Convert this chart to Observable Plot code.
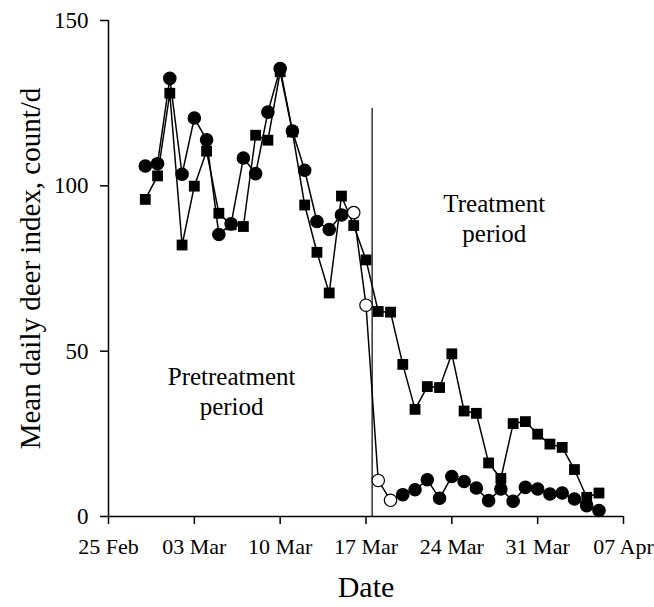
<!DOCTYPE html>
<html>
<head>
<meta charset="utf-8">
<script src="https://cdn.jsdelivr.net/npm/d3@7"></script>
<script src="https://cdn.jsdelivr.net/npm/@observablehq/plot@0.6"></script>
<style>
  html, body { margin: 0; padding: 0; background: #fff; }
  #chart svg { display: block; }
</style>
</head>
<body>
<div id="chart"></div>
<script>
// Daily observations (leap year 2016, so 25 Feb -> 03 Mar is 7 days)
const dates = [
  "2016-02-28","2016-02-29","2016-03-01","2016-03-02","2016-03-03","2016-03-04",
  "2016-03-05","2016-03-06","2016-03-07","2016-03-08","2016-03-09","2016-03-10",
  "2016-03-11","2016-03-12","2016-03-13","2016-03-14","2016-03-15","2016-03-16",
  "2016-03-17","2016-03-18","2016-03-19","2016-03-20","2016-03-21","2016-03-22",
  "2016-03-23","2016-03-24","2016-03-25","2016-03-26","2016-03-27","2016-03-28",
  "2016-03-29","2016-03-30","2016-03-31","2016-04-01","2016-04-02","2016-04-03",
  "2016-04-04","2016-04-05"
];
// Circle series
const circleValues = [
  106, 106.7, 132.5, 103.5, 120.5, 113.9,
  85.3, 88.5, 108.4, 103.7, 122.3, 135.5,
  116.6, 104.7, 89.2, 86.8, 91.2, 91.9,
  63.9, 10.9, 4.9, 6.6, 8.1, 11.1,
  5.5, 12.1, 10.6, 8.6, 4.8, 8.3,
  4.6, 8.8, 8.3, 6.8, 7.1, 5.3,
  3.3, 1.8
];
// Square series
const squareValues = [
  95.9, 103, 128, 82.1, 99.9, 110.5,
  91.7, 88.2, 87.7, 115.3, 113.8, 134.5,
  116.3, 94.2, 79.9, 67.6, 96.9, 88,
  77.6, 62, 61.8, 46, 32.4, 39.3,
  39, 49.2, 31.9, 31.2, 16.2, 11.5,
  28.1, 28.7, 24.9, 21.9, 20.9, 14.2,
  5.8, 7.1
];
// Circle points drawn hollow
const openCircleDates = ["2016-03-16","2016-03-17","2016-03-18","2016-03-19"];
// Axis ticks
const xTickDates = ["2016-02-25","2016-03-03","2016-03-10","2016-03-17","2016-03-24","2016-03-31","2016-04-07"];
const yTicks = [0, 50, 100, 150];
// Treatment start (between 17 and 18 Mar)
const treatmentStart = "2016-03-17T12:00Z";

const parse = d3.isoParse;
const rows = dates.map((d, i) => ({
  date: parse(d),
  circle: circleValues[i],
  square: squareValues[i],
  open: openCircleDates.includes(d)
}));
const xmin = parse(xTickDates[0]);
const xmax = parse(xTickDates[xTickDates.length - 1]);

const serif = "'Liberation Serif', 'Times New Roman', serif";

const chart = Plot.plot({
  width: 654,
  height: 607,
  marginLeft: 108,
  marginRight: 31,
  marginTop: 20,
  marginBottom: 91,
  style: { fontFamily: serif, fontSize: "22px", color: "#000", background: "#fff" },
  x: { type: "utc", domain: [xmin, xmax] },
  y: { domain: [0, 150] },
  marks: [
    Plot.axisX({
      ticks: xTickDates.map(parse),
      tickFormat: d3.utcFormat("%d %b"),
      tickSize: 8, tickPadding: 14, strokeWidth: 1.5,
      label: null, fontSize: 22
    }),
    Plot.axisY({
      ticks: yTicks, tickSize: 8, tickPadding: 12, strokeWidth: 1.5,
      label: null, fontSize: 23
    }),
    Plot.ruleX([xmin], { stroke: "black", strokeWidth: 1.5 }),
    Plot.ruleY([0], { stroke: "black", strokeWidth: 1.5 }),
    Plot.ruleX([parse(treatmentStart)], { y1: 0, y2: 123.4, stroke: "black", strokeWidth: 1.2 }),
    Plot.line(rows, { x: "date", y: "square", stroke: "black", strokeWidth: 1.5 }),
    Plot.line(rows, { x: "date", y: "circle", stroke: "black", strokeWidth: 1.5 }),
    Plot.dot(rows, { x: "date", y: "square", symbol: "square", r: 6.1, fill: "black", stroke: "none" }),
    Plot.dot(rows, {
      x: "date", y: "circle", r: 6.2,
      fill: d => d.open ? "white" : "black",
      stroke: "black", strokeWidth: 1.2
    }),
    Plot.text(["Pretreatment\nperiod"], {
      x: () => parse("2016-03-06T01:00Z"), y: () => 38,
      text: d => d, fontSize: 25, lineHeight: 1.2, fill: "black"
    }),
    Plot.text(["Treatment\nperiod"], {
      x: () => parse("2016-03-27T11:00Z"), y: () => 90.5,
      text: d => d, fontSize: 25, lineHeight: 1.2, fill: "black"
    }),
    Plot.text(["Date"], {
      frameAnchor: "bottom", dy: 80, text: d => d, fontSize: 30, fill: "black"
    }),
    Plot.text(["Mean daily deer index, count/d"], {
      frameAnchor: "left", textAnchor: "middle", dx: -78, rotate: -90,
      text: d => d, fontSize: 29, fill: "black"
    })
  ]
});
document.getElementById("chart").appendChild(chart);
</script>
</body>
</html>
